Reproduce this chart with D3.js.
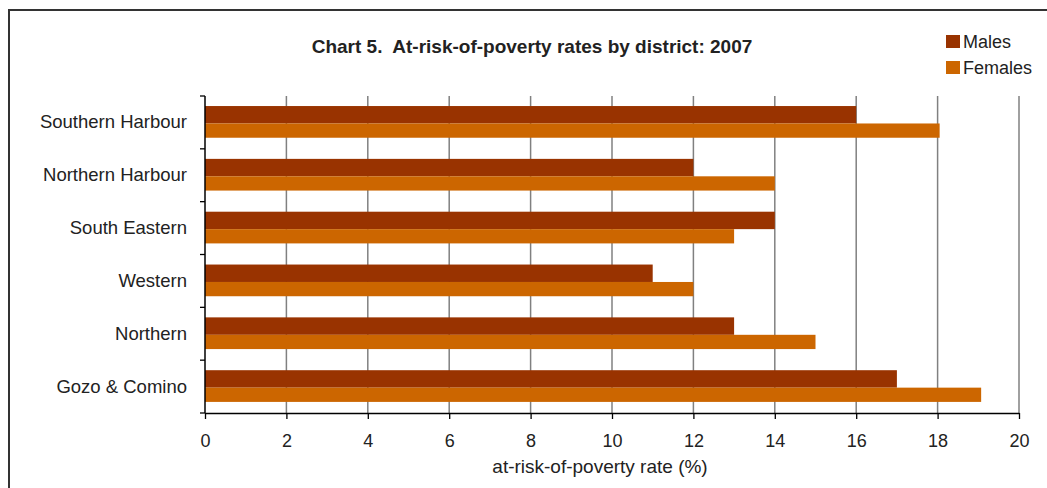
<!DOCTYPE html>
<html><head><meta charset="utf-8">
<script src="https://cdn.jsdelivr.net/npm/d3@7"></script>
<style>body{margin:0;background:#fff}svg{display:block;font-family:"Liberation Sans",Arial,sans-serif}</style>
</head><body><svg id="c" width="1047" height="488"></svg>
<script>
const categories = ["Southern Harbour","Northern Harbour","South Eastern","Western","Northern","Gozo & Comino"];
const males = [16,12,14,11,13,17];
const females = [18.05,14,13,12,15,19.07];
const xTicks = [0,2,4,6,8,10,12,14,16,18,20];
const seriesNames = ["Males","Females"];
const colors = ["#993300","#CC6600"];

const svg = d3.select("#c");
// frame
svg.append("rect").attr("x",9).attr("y",10).attr("width",1060).attr("height",500)
  .attr("fill","none").attr("stroke","#333").attr("stroke-width",2);

const L=205, R=1019, T=96, B=413;
const x = d3.scaleLinear().domain([0,20]).range([L,R]);
const y = d3.scaleBand().domain(categories).range([T,B]).padding(0);
const bw = y.bandwidth();

// gridlines
svg.append("g").selectAll("line").data(xTicks.slice(1)).join("line")
  .attr("x1",d=>x(d)).attr("x2",d=>x(d)).attr("y1",T).attr("y2",B)
  .attr("stroke","#808080").attr("stroke-width",1.5);

// bars
const g = svg.append("g");
g.selectAll("rect.m").data(categories).join("rect").attr("class","m")
  .attr("x",x(0)).attr("y",d=>y(d)+bw*0.19).attr("height",bw*0.33)
  .attr("width",(d,i)=>x(males[i])-x(0)).attr("fill",colors[0]);
g.selectAll("rect.f").data(categories).join("rect").attr("class","f")
  .attr("x",x(0)).attr("y",d=>y(d)+bw*0.52).attr("height",bw*0.27)
  .attr("width",(d,i)=>x(females[i])-x(0)).attr("fill",colors[1]);

// x axis
const xa = svg.append("g").attr("transform",`translate(0,${B})`)
  .call(d3.axisBottom(x).tickValues(xTicks).tickSize(6).tickSizeOuter(0).tickPadding(15));
xa.select(".domain").attr("stroke","#000").attr("stroke-width",1.5);
xa.selectAll(".tick line").attr("stroke","#000").attr("stroke-width",1.3);
xa.selectAll("text").attr("font-size",18).attr("fill","#222").attr("font-family","Liberation Sans, Arial, sans-serif");

// y axis with ticks at band boundaries
svg.append("line").attr("x1",L).attr("x2",L).attr("y1",T).attr("y2",B).attr("stroke","#000").attr("stroke-width",1.5);
const bounds = categories.map(c=>y(c)).concat([B]);
svg.append("g").selectAll("line").data(bounds).join("line")
  .attr("x1",L-5).attr("x2",L).attr("y1",d=>d).attr("y2",d=>d).attr("stroke","#000").attr("stroke-width",1.3);
svg.append("g").selectAll("text").data(categories).join("text")
  .attr("x",187).attr("y",d=>y(d)+bw/2+6).attr("text-anchor","end")
  .attr("font-size",18.5).attr("fill","#222").text(d=>d);

// axis title
svg.append("text").attr("x",600).attr("y",473).attr("text-anchor","middle")
  .attr("font-size",19).attr("fill","#222").text("at-risk-of-poverty rate (%)");
// chart title
svg.append("text").attr("x",532).attr("y",53).attr("text-anchor","middle")
  .attr("font-size",19).attr("font-weight","bold").attr("fill","#222")
  .style("white-space","pre")
  .text("Chart 5.  At-risk-of-poverty rates by district: 2007");

// legend
const lg = svg.append("g");
seriesNames.forEach((s,i)=>{
  lg.append("rect").attr("x",946).attr("y",35+i*26).attr("width",14).attr("height",13).attr("fill",colors[i]);
  lg.append("text").attr("x",963).attr("y",48+i*26).attr("font-size",18).attr("fill","#222").text(s);
});
</script></body></html>
